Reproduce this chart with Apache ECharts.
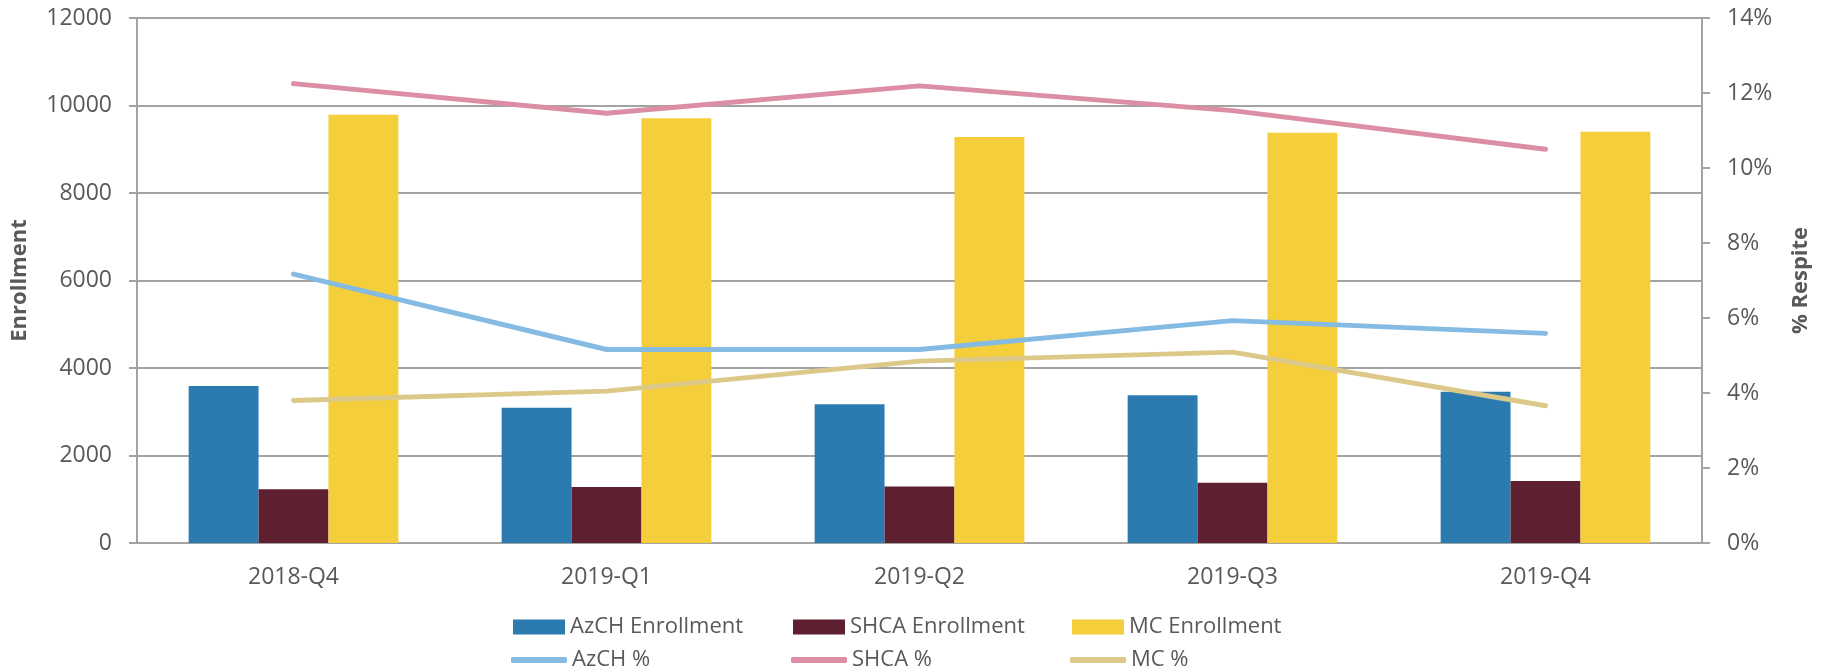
<!DOCTYPE html>
<html>
<head>
<meta charset="utf-8">
<title>Enrollment and % Respite</title>
<script src="https://cdn.jsdelivr.net/npm/echarts@6/dist/echarts.min.js"></script>
<style>
  html, body { margin: 0; padding: 0; background: #fff; }
  #chart { width: 1825px; height: 669px; }
</style>
</head>
<body>
<div id="chart"></div>
<script>
// data
const quarters = ["2018-Q4", "2019-Q1", "2019-Q2", "2019-Q3", "2019-Q4"];
const azchEnrollment = [3590, 3090, 3170, 3380, 3460];
const shcaEnrollment = [1230, 1280, 1290, 1380, 1420];
const mcEnrollment = [9790, 9710, 9280, 9380, 9400];
const azchPct = [7.17, 5.16, 5.16, 5.93, 5.59];
const shcaPct = [12.25, 11.46, 12.19, 11.53, 10.5];
const mcPct = [3.8, 4.05, 4.85, 5.09, 3.66];

const barNames = ["AzCH Enrollment", "SHCA Enrollment", "MC Enrollment"];
const lineNames = ["AzCH %", "SHCA %", "MC %"];

const font = "'Open Sans', sans-serif";
const textGrey = "#595959";
const lineGrey = "#a3a3a3";
const colors = ["#2b7bb1", "#5e1f30", "#f4ce3b", "#85bbe2", "#db8ea4", "#dcc98a"];

// one legend per item so the columns line up like the original
const legendCols = [508, 788, 1067];
const legends = [];
barNames.forEach((name, i) => {
  legends.push({
    data: [name],
    left: legendCols[i],
    top: 611,
    icon: "rect",
    itemWidth: 52,
    itemHeight: 15,
    textStyle: { color: textGrey, fontSize: 22, fontFamily: font },
  });
});
lineNames.forEach((name, i) => {
  legends.push({
    data: [name],
    left: legendCols[i] - 2,
    top: 644,
    icon: "roundRect",
    itemWidth: 56,
    itemHeight: 6,
    textStyle: { color: textGrey, fontSize: 22, fontFamily: font },
  });
});

var myChart = echarts.init(document.getElementById("chart"));
myChart.setOption({
  animation: false,
  color: colors,
  textStyle: { fontFamily: font },
  grid: { left: 137, right: 123, top: 18, bottom: 126, containLabel: false },
  legend: legends,
  xAxis: {
    type: "category",
    data: quarters,
    axisLine: { lineStyle: { color: lineGrey, width: 2 } },
    axisTick: { length: 9, lineStyle: { color: lineGrey, width: 2 } },
    axisLabel: { color: textGrey, fontSize: 23, fontFamily: font, margin: 23 },
  },
  yAxis: [
    {
      type: "value",
      name: "Enrollment",
      nameLocation: "middle",
      nameGap: 106,
      nameTextStyle: { color: textGrey, fontSize: 22, fontWeight: "bold", fontFamily: font },
      min: 0,
      max: 12000,
      interval: 2000,
      axisLine: { show: true, lineStyle: { color: lineGrey, width: 2 } },
      axisTick: { show: true, length: 8, lineStyle: { color: lineGrey, width: 2 } },
      axisLabel: { color: textGrey, fontSize: 23, fontFamily: font, margin: 25, formatter: (v) => String(v) },
      splitLine: { lineStyle: { color: lineGrey, width: 2 } },
    },
    {
      type: "value",
      name: "% Respite",
      nameLocation: "middle",
      nameGap: 88,
      nameTextStyle: { color: textGrey, fontSize: 22, fontWeight: "bold", fontFamily: font },
      position: "right",
      min: 0,
      max: 14,
      interval: 2,
      axisLine: { show: true, lineStyle: { color: lineGrey, width: 2 } },
      axisTick: { show: true, length: 8, lineStyle: { color: lineGrey, width: 2 } },
      axisLabel: { color: textGrey, fontSize: 23, fontFamily: font, margin: 25, formatter: "{value}%" },
      splitLine: { show: false },
    },
  ],
  series: [
    { name: barNames[0], type: "bar", data: azchEnrollment, barGap: "0%", barCategoryGap: "33%" },
    { name: barNames[1], type: "bar", data: shcaEnrollment, barGap: "0%", barCategoryGap: "33%" },
    { name: barNames[2], type: "bar", data: mcEnrollment, barGap: "0%", barCategoryGap: "33%" },
    { name: lineNames[0], type: "line", yAxisIndex: 1, data: azchPct, symbol: "none", lineStyle: { width: 5, cap: "round", join: "round" } },
    { name: lineNames[1], type: "line", yAxisIndex: 1, data: shcaPct, symbol: "none", lineStyle: { width: 5, cap: "round", join: "round" } },
    { name: lineNames[2], type: "line", yAxisIndex: 1, data: mcPct, symbol: "none", lineStyle: { width: 5, cap: "round", join: "round" } },
  ],
});
</script>
</body>
</html>
